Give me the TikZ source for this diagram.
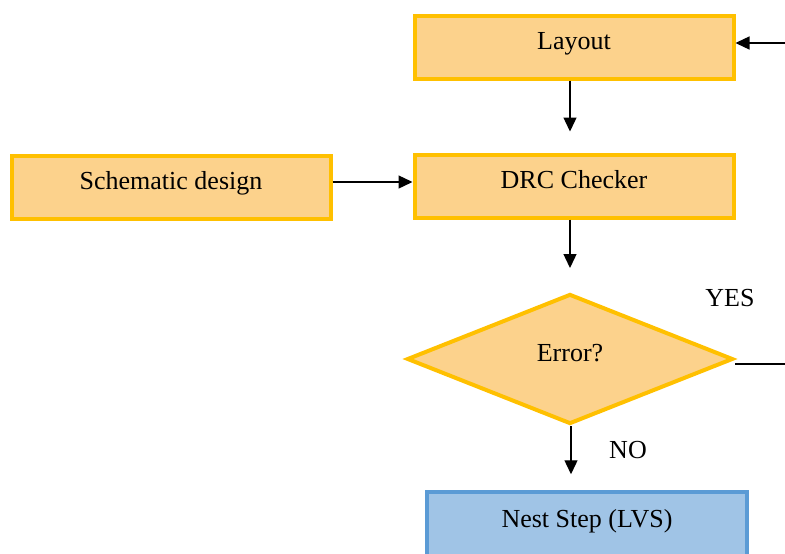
\documentclass[tikz,border=0pt]{standalone}
\usepackage{fontspec}
\setmainfont{Liberation Serif}
\usetikzlibrary{shapes.geometric,arrows.meta}
\definecolor{boxfill}{RGB}{252,210,140}
\definecolor{boxedge}{RGB}{255,192,0}
\definecolor{bluefill}{RGB}{160,196,230}
\definecolor{blueedge}{RGB}{91,155,213}
\tikzset{
  every node/.style={font=\fontsize{26}{31}\selectfont, text height=10pt, text depth=6pt, inner sep=0pt},
  procbox/.style={draw=boxedge, fill=boxfill, line width=4pt, minimum width=319pt, minimum height=63pt},
  nextbox/.style={draw=blueedge, fill=bluefill, line width=3.5pt, minimum width=320pt, minimum height=66pt},
  decision/.style={diamond, draw=boxedge, fill=boxfill, line width=4pt, minimum width=326pt, minimum height=130pt},
  conn/.style={draw=black, line width=1.4pt, -{Triangle[length=14pt,width=13pt]}},
  plainline/.style={draw=black, line width=1.4pt},
  lbl/.style={text height=17pt, text depth=0pt}
}
\begin{document}
\begin{tikzpicture}[x=1pt,y=-1pt]
\useasboundingbox (0,0) rectangle (785,554);
\node[procbox] (layout) at (574,47) {Layout};
\node[procbox] (drc) at (574,186) {DRC Checker};
\node[procbox] (schem) at (171,187) {Schematic design};
\node[decision] (err) at (570,359) {Error?};
\node[nextbox] (nest) at (587,525) {Nest Step (LVS)};
\node[lbl] (yes) at (730,298) {YES};
\node[lbl] (no) at (628,450) {NO};
\coordinate (loopin) at (785,43);
\coordinate (loopout) at (785,364);
% connectors
\draw[conn, shorten >=21pt] (layout.south -| err.center) -- (drc.north -| err.center);
\draw[conn, shorten >=24pt] (drc.south -| err.center) -- (err.north);
\draw[conn, shorten >=16pt] ([xshift=1pt]err.south) -- ([xshift=1pt]err.south |- nest.north);
\draw[conn] ([yshift=5pt]schem.east) -- ([yshift=5pt]schem.east -| drc.west);
\draw[plainline] (err.east |- loopout) -- (loopout);
\draw[conn] (loopin) -- (loopin -| layout.east);
\end{tikzpicture}
\end{document}
